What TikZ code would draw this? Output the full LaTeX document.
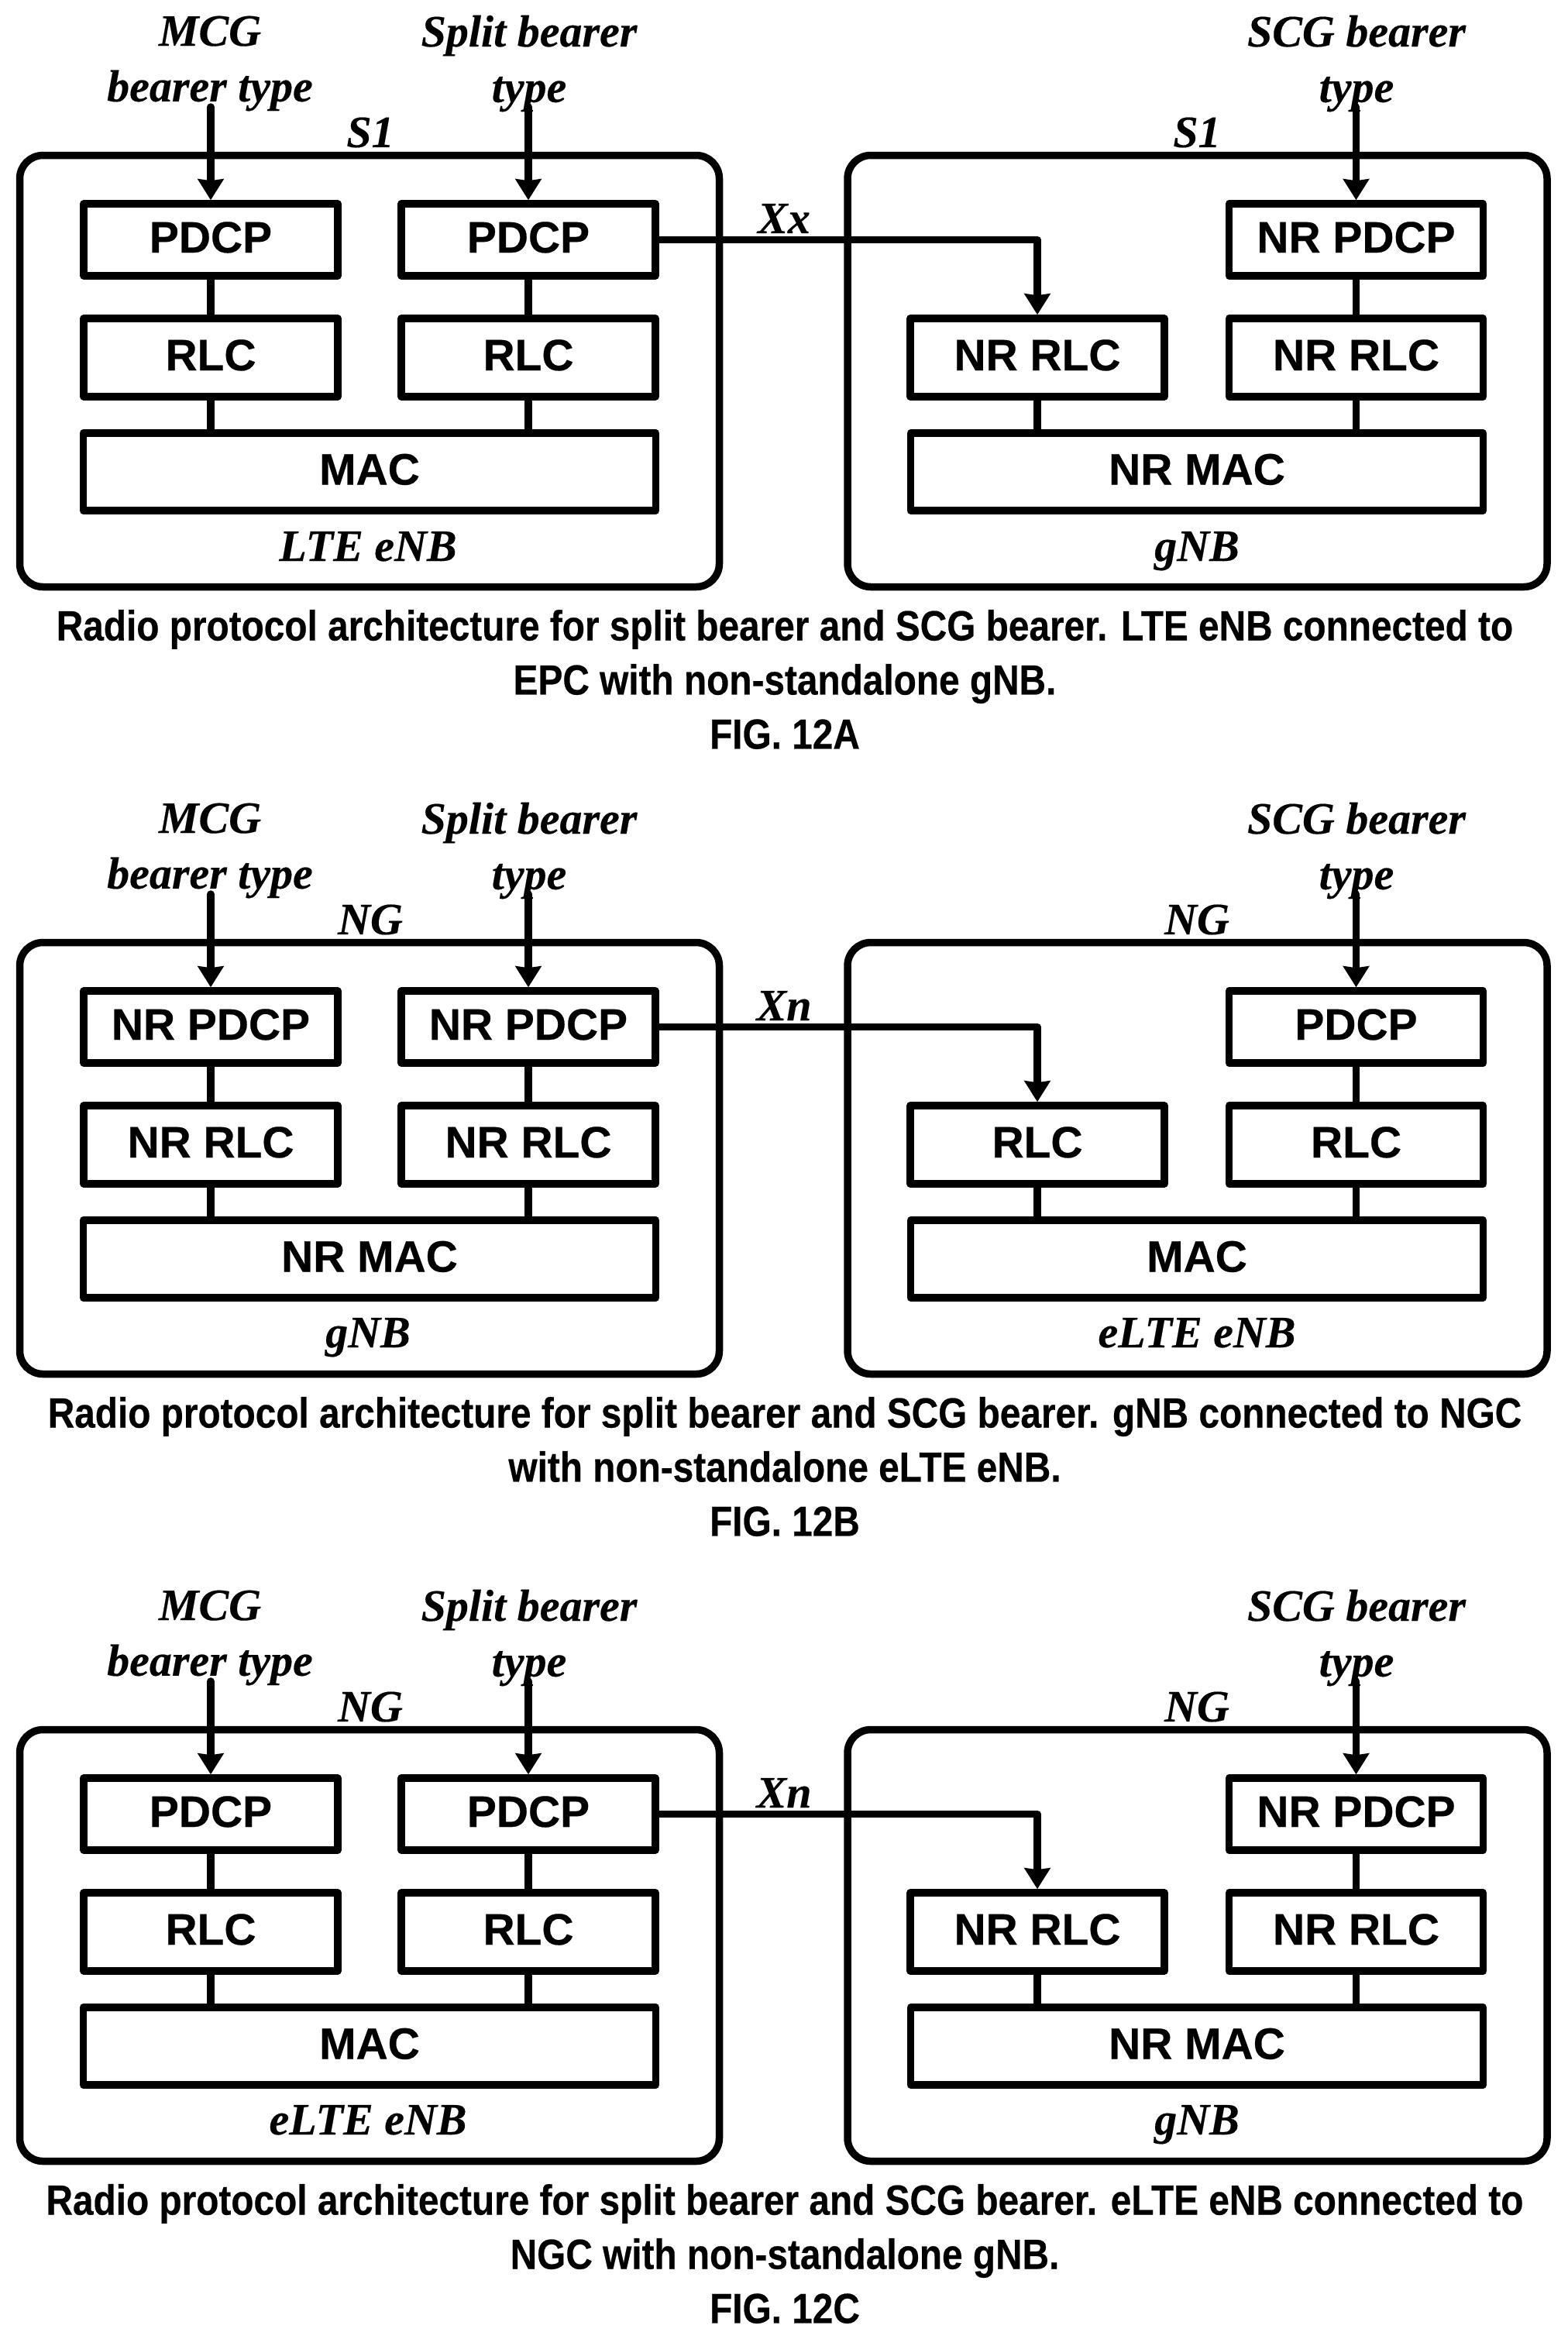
\documentclass[tikz,border=0pt]{standalone}
\usepackage{fontspec}
\usepackage{tikz}
\usetikzlibrary{arrows.meta}
\setmainfont{Liberation Serif}[BoldItalicFeatures={FakeBold=0.3}]
\newfontfamily\boxfont{Liberation Sans}[BoldFont=* Bold,BoldFeatures={FakeBold=0.4}]
\newfontfamily\captionfont{Liberation Sans}[BoldFont=* Bold,BoldFeatures={FakeStretch=0.877,FakeBold=0.4}]
\tikzset{
	thick line/.style={line width=0.095cm,line join=round},
	frame/.style={shape=rectangle,draw=black,thick line,rounded corners=0.3cm,minimum width=9.03cm,minimum height=5.57cm,inner sep=0},
	layer/.style={shape=rectangle,draw=black,thick line,fill=white,inner sep=0,text height=0.41cm,text depth=0.08cm,font=\boxfont\bfseries\fontsize{16.2}{20}\selectfont},
	short layer/.style={layer,minimum width=3.28cm,minimum height=1.01cm},
	top layer/.style={layer,minimum width=3.28cm,minimum height=0.93cm},
	wide layer/.style={layer,minimum width=7.39cm,minimum height=1cm},
	tag/.style={inner sep=0,align=center,font=\bfseries\itshape\fontsize{16.5}{20.4}\selectfont},
	name tag/.style={tag,text height=0.38cm,text depth=0.12cm},
	caption/.style={inner sep=0,align=center,font=\captionfont\bfseries\fontsize{15.5}{19.9}\selectfont},
	link/.style={draw=black,thick line},
	feed/.style={draw=black,thick line,line cap=round,-{Stealth[length=0.27cm,width=0.33cm,inset=0.02cm]}}
}
\begin{document}
\begin{tikzpicture}
	\useasboundingbox (0,0) rectangle (20.23,-30.19);
	% FIG. 12A
	\node [frame] (A1) at (4.77,-4.79) {};
	\node [frame] (A2) at (15.455,-4.79) {};
	\node [top layer] (AP1) at (2.72,-3.095) {PDCP};
	\node [top layer] (AP2) at (6.82,-3.095) {PDCP};
	\node [top layer] (AP4) at (17.505,-3.095) {NR PDCP};
	\node [short layer] (AR1) at (2.72,-4.615) {RLC};
	\node [short layer] (AR2) at (6.82,-4.615) {RLC};
	\node [short layer] (AR3) at (13.39,-4.615) {NR RLC};
	\node [short layer] (AR4) at (17.505,-4.615) {NR RLC};
	\node [wide layer] (AM1) at (4.77,-6.09) {MAC};
	\node [wide layer] (AM2) at (15.45,-6.09) {NR MAC};
	\node [tag] (AT1) at (2.71,-0.82) {MCG\\bearer type};
	\node [tag] (AT2) at (6.83,-0.82) {Split bearer\\type};
	\node [tag] (AT4) at (17.51,-0.82) {SCG bearer\\type};
	\node [tag] (AS1) at (4.78,-1.71) {S1};
	\node [tag] (AS2) at (15.45,-1.71) {S1};
	\node [tag] (AX) at (10.12,-2.82) {Xx};
	\node [name tag] (AN1) at (4.75,-7.11) {LTE eNB};
	\node [name tag] (AN2) at (15.45,-7.11) {gNB};
	\node [caption] (AC) at (10.13,-8.77) {Radio protocol architecture for split bearer and SCG bearer. LTE eNB connected to\\EPC with non-standalone gNB.\\FIG. 12A};
	\coordinate (AF1) at (2.72,-1.38);
	\coordinate (AF2) at (6.82,-1.38);
	\coordinate (AF4) at (17.505,-1.38);
	\draw [feed] (AF1) -- (AP1.north);
	\draw [feed] (AF2) -- (AP2.north);
	\draw [feed] (AF4) -- (AP4.north);
	\draw [feed,line cap=butt] (AP2.east) -| (AR3.north);
	\draw [link] (AP1) -- (AR1);
	\draw [link] (AP2) -- (AR2);
	\draw [link] (AP4) -- (AR4);
	\draw [link] (AR1.south) -- (AR1.south |- AM1.north);
	\draw [link] (AR2.south) -- (AR2.south |- AM1.north);
	\draw [link] (AR3.south) -- (AR3.south |- AM2.north);
	\draw [link] (AR4.south) -- (AR4.south |- AM2.north);
	% FIG. 12B
	\node [frame] (B1) at (4.77,-14.95) {};
	\node [frame] (B2) at (15.455,-14.95) {};
	\node [top layer] (BP1) at (2.72,-13.255) {NR PDCP};
	\node [top layer] (BP2) at (6.82,-13.255) {NR PDCP};
	\node [top layer] (BP4) at (17.505,-13.255) {PDCP};
	\node [short layer] (BR1) at (2.72,-14.775) {NR RLC};
	\node [short layer] (BR2) at (6.82,-14.775) {NR RLC};
	\node [short layer] (BR3) at (13.39,-14.775) {RLC};
	\node [short layer] (BR4) at (17.505,-14.775) {RLC};
	\node [wide layer] (BM1) at (4.77,-16.25) {NR MAC};
	\node [wide layer] (BM2) at (15.45,-16.25) {MAC};
	\node [tag] (BT1) at (2.71,-10.98) {MCG\\bearer type};
	\node [tag] (BT2) at (6.83,-10.98) {Split bearer\\type};
	\node [tag] (BT4) at (17.51,-10.98) {SCG bearer\\type};
	\node [tag] (BS1) at (4.78,-11.87) {NG};
	\node [tag] (BS2) at (15.45,-11.87) {NG};
	\node [tag] (BX) at (10.12,-12.98) {Xn};
	\node [name tag] (BN1) at (4.75,-17.26) {gNB};
	\node [name tag] (BN2) at (15.45,-17.26) {eLTE eNB};
	\node [caption] (BC) at (10.13,-18.93) {Radio protocol architecture for split bearer and SCG bearer. gNB connected to NGC\\with non-standalone eLTE eNB.\\FIG. 12B};
	\coordinate (BF1) at (2.72,-11.54);
	\coordinate (BF2) at (6.82,-11.54);
	\coordinate (BF4) at (17.505,-11.54);
	\draw [feed] (BF1) -- (BP1.north);
	\draw [feed] (BF2) -- (BP2.north);
	\draw [feed] (BF4) -- (BP4.north);
	\draw [feed,line cap=butt] (BP2.east) -| (BR3.north);
	\draw [link] (BP1) -- (BR1);
	\draw [link] (BP2) -- (BR2);
	\draw [link] (BP4) -- (BR4);
	\draw [link] (BR1.south) -- (BR1.south |- BM1.north);
	\draw [link] (BR2.south) -- (BR2.south |- BM1.north);
	\draw [link] (BR3.south) -- (BR3.south |- BM2.north);
	\draw [link] (BR4.south) -- (BR4.south |- BM2.north);
	% FIG. 12C
	\node [frame] (C1) at (4.77,-25.11) {};
	\node [frame] (C2) at (15.455,-25.11) {};
	\node [top layer] (CP1) at (2.72,-23.415) {PDCP};
	\node [top layer] (CP2) at (6.82,-23.415) {PDCP};
	\node [top layer] (CP4) at (17.505,-23.415) {NR PDCP};
	\node [short layer] (CR1) at (2.72,-24.935) {RLC};
	\node [short layer] (CR2) at (6.82,-24.935) {RLC};
	\node [short layer] (CR3) at (13.39,-24.935) {NR RLC};
	\node [short layer] (CR4) at (17.505,-24.935) {NR RLC};
	\node [wide layer] (CM1) at (4.77,-26.41) {MAC};
	\node [wide layer] (CM2) at (15.45,-26.41) {NR MAC};
	\node [tag] (CT1) at (2.71,-21.14) {MCG\\bearer type};
	\node [tag] (CT2) at (6.83,-21.14) {Split bearer\\type};
	\node [tag] (CT4) at (17.51,-21.14) {SCG bearer\\type};
	\node [tag] (CS1) at (4.78,-22.03) {NG};
	\node [tag] (CS2) at (15.45,-22.03) {NG};
	\node [tag] (CX) at (10.12,-23.14) {Xn};
	\node [name tag] (CN1) at (4.75,-27.42) {eLTE eNB};
	\node [name tag] (CN2) at (15.45,-27.42) {gNB};
	\node [caption] (CC) at (10.13,-29.09) {Radio protocol architecture for split bearer and SCG bearer. eLTE eNB connected to\\NGC with non-standalone gNB.\\FIG. 12C};
	\coordinate (CF1) at (2.72,-21.7);
	\coordinate (CF2) at (6.82,-21.7);
	\coordinate (CF4) at (17.505,-21.7);
	\draw [feed] (CF1) -- (CP1.north);
	\draw [feed] (CF2) -- (CP2.north);
	\draw [feed] (CF4) -- (CP4.north);
	\draw [feed,line cap=butt] (CP2.east) -| (CR3.north);
	\draw [link] (CP1) -- (CR1);
	\draw [link] (CP2) -- (CR2);
	\draw [link] (CP4) -- (CR4);
	\draw [link] (CR1.south) -- (CR1.south |- CM1.north);
	\draw [link] (CR2.south) -- (CR2.south |- CM1.north);
	\draw [link] (CR3.south) -- (CR3.south |- CM2.north);
	\draw [link] (CR4.south) -- (CR4.south |- CM2.north);
\end{tikzpicture}
\end{document}
